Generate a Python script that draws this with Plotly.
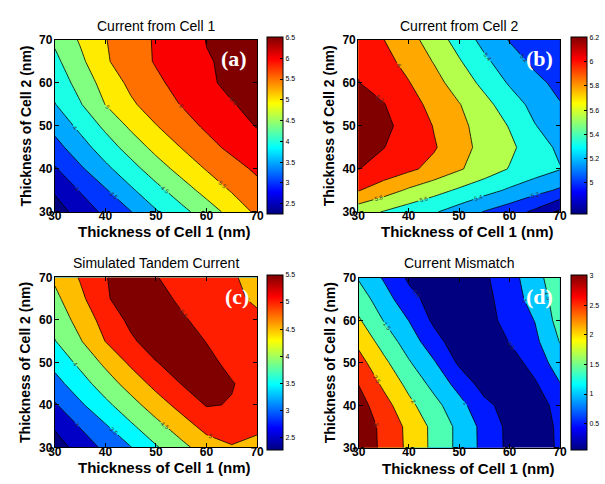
import plotly.graph_objects as go

# ---------------- data ----------------
x_nm = [30, 35, 40, 45, 50, 55, 60, 65, 70]   # Thickness of Cell 1
y_nm = [30, 35, 40, 45, 50, 55, 60, 65, 70]   # Thickness of Cell 2

# rows = y (30 -> 70), columns = x (30 -> 70)
cur_cell1 = [
    [2.24, 2.71, 3.11, 3.48, 3.95, 4.35, 4.75, 5.17, 5.60],
    [2.57, 3.03, 3.45, 3.92, 4.34, 4.76, 5.17, 5.54, 5.82],
    [2.95, 3.42, 3.88, 4.31, 4.76, 5.17, 5.53, 5.80, 6.09],
    [3.32, 3.79, 4.25, 4.71, 5.15, 5.51, 5.83, 6.12, 6.36],
    [3.66, 4.12, 4.61, 5.09, 5.48, 5.79, 6.08, 6.33, 6.52],
    [3.98, 4.46, 5.01, 5.42, 5.74, 6.02, 6.26, 6.49, 6.55],
    [4.18, 4.68, 5.19, 5.61, 5.90, 6.17, 6.47, 6.54, 6.57],
    [4.38, 4.88, 5.44, 5.76, 6.04, 6.26, 6.48, 6.55, 6.58],
    [4.58, 5.05, 5.48, 5.78, 6.05, 6.28, 6.51, 6.55, 6.58],
]
cur_cell2 = [
    [5.68, 5.59, 5.50, 5.42, 5.31, 5.19, 5.09, 4.96, 4.76],
    [6.01, 5.89, 5.77, 5.67, 5.57, 5.47, 5.37, 5.27, 5.17],
    [6.205, 6.13, 6.04, 5.94, 5.82, 5.71, 5.59, 5.50, 5.41],
    [6.22, 6.205, 6.12, 6.02, 5.87, 5.74, 5.64, 5.50, 5.36],
    [6.22, 6.22, 6.17, 5.99, 5.85, 5.72, 5.59, 5.41, 5.29],
    [6.215, 6.21, 6.08, 5.94, 5.81, 5.66, 5.50, 5.34, 5.21],
    [6.205, 6.13, 6.01, 5.87, 5.71, 5.55, 5.38, 5.25, 5.15],
    [6.18, 6.06, 5.94, 5.79, 5.62, 5.44, 5.29, 5.16, 5.09],
    [6.10, 6.005, 5.87, 5.71, 5.52, 5.34, 5.19, 5.11, 5.03],
]
tandem = [
    [2.24, 2.71, 3.11, 3.48, 3.95, 4.35, 4.75, 4.96, 4.76],
    [2.57, 3.03, 3.45, 3.92, 4.34, 4.76, 5.17, 5.27, 5.17],
    [2.95, 3.42, 3.88, 4.31, 4.76, 5.17, 5.53, 5.48, 5.41],
    [3.32, 3.79, 4.25, 4.71, 5.15, 5.51, 5.64, 5.52, 5.36],
    [3.66, 4.12, 4.61, 5.09, 5.48, 5.72, 5.59, 5.41, 5.29],
    [3.98, 4.46, 5.01, 5.42, 5.74, 5.66, 5.49, 5.34, 5.21],
    [4.18, 4.68, 5.19, 5.61, 5.71, 5.55, 5.38, 5.25, 5.15],
    [4.38, 4.88, 5.44, 5.76, 5.62, 5.44, 5.29, 5.16, 4.88],
    [4.58, 5.04, 5.48, 5.71, 5.52, 5.34, 5.19, 5.05, 4.85],
]
mismatch = [
    [3.35, 2.88, 2.39, 1.87, 1.37, 0.85, 0.38, 0.15, 0.60],
    [3.30, 2.88, 2.37, 1.87, 1.37, 0.84, 0.37, 0.15, 0.62],
    [3.20, 2.70, 2.13, 1.66, 1.17, 0.63, 0.30, 0.20, 0.72],
    [2.99, 2.40, 1.86, 1.35, 0.82, 0.30, 0.12, 0.43, 0.98],
    [2.69, 2.12, 1.55, 1.05, 0.42, 0.10, 0.25, 0.70, 1.25],
    [2.38, 1.80, 1.26, 0.70, 0.20, 0.12, 0.52, 0.88, 1.52],
    [2.06, 1.48, 0.99, 0.40, 0.10, 0.30, 0.68, 1.01, 1.70],
    [1.76, 1.22, 0.67, 0.30, 0.08, 0.35, 0.75, 1.19, 1.75],
    [1.46, 0.95, 0.42, 0.15, 0.05, 0.42, 0.81, 1.29, 1.88],
]

titles = ["Current from Cell 1", "Current from Cell 2",
          "Simulated Tandem Current", "Current Mismatch"]
panel_tags = ["(a)", "(b)", "(c)", "(d)"]
axis_ticks = [30, 40, 50, 60, 70]

cb_ticks = [
    [2.5, 3, 3.5, 4, 4.5, 5, 5.5, 6, 6.5],
    [5, 5.2, 5.4, 5.6, 5.8, 6, 6.2],
    [2.5, 3, 3.5, 4, 4.5, 5, 5.5],
    [0.5, 1, 1.5, 2, 2.5, 3],
]
cb_ticktext = [
    ["2.5", "3", "3.5", "4", "4.5", "5", "5.5", "6", "6.5"],
    ["5", "5.2", "5.4", "5.6", "5.8", "6", "6.2"],
    ["2.5", "3", "3.5", "4", "4.5", "5", "5.5"],
    ["0.5", "1", "1.5", "2", "2.5", "3"],
]
# contour levels (start, end, step) and colour limits
levels = [(2.5, 6.5, 0.5), (4.8, 6.2, 0.2), (2.5, 5.5, 0.5), (0.5, 3.0, 0.5)]
clims = [(2.24, 6.5), (4.74, 6.2), (2.27, 5.5), (0.05, 3.0)]
# colormap position of each filled band (lowest band first)
band_pos = [
    [0.0, 0.06, 0.178, 0.29, 0.40, 0.50, 0.645, 0.765, 0.88, 1.0],
    [0.0, 0.04, 0.17, 0.29, 0.40, 0.55, 0.71, 0.86, 1.0],
    [0.0, 0.07, 0.225, 0.37, 0.50, 0.69, 0.845, 1.0],
    [0.0, 0.15, 0.32, 0.45, 0.66, 0.83, 1.0],
]

# ---------------- styling helpers ----------------
W, H = 605, 484
FONT = "Liberation Sans"


def clip(v):
    return max(0.0, min(1.0, v))


def jet(t):
    t = clip(t)
    r = clip(min(4 * t - 1.5, -4 * t + 4.5))
    g = clip(min(4 * t - 0.5, -4 * t + 3.5))
    b = clip(min(4 * t + 0.5, -4 * t + 2.5))
    return "rgb(%d,%d,%d)" % (round(r * 255), round(g * 255), round(b * 255))


jet_scale = [[i / 64, jet(i / 64)] for i in range(65)]


def band_scale(pos):
    n = len(pos) - 1
    return [[k / n, jet(pos[k])] for k in range(n + 1)]


def fx(px):
    return px / W


def fy(py):
    return 1 - py / H


# pixel boxes of the four plot areas: (left, right, top, bottom)
boxes = [(49, 256, 34, 211), (359.5, 566, 34, 211),
         (49, 256, 278.5, 453.5), (360, 566, 279, 454)]
cb_left = [266.5, 577.5, 266.5, 577.5]
tag_pos = [(232, 53), (545, 53), (235, 298), (545, 298)]
title_y = [20, 20, 264, 264]
xlab_y = [231, 231, 474.5, 475]
ylab_x = [19, 330, 19, 331]

zs = [cur_cell1, cur_cell2, tandem, mismatch]

fig = go.Figure()
annotations = []
layout_axes = {}

for i in range(4):
    L, R, T, B = boxes[i]
    ax = "" if i == 0 else str(i + 1)
    s, e, st = levels[i]
    cmin, cmax = clims[i]
    fig.add_trace(go.Contour(
        x=x_nm, y=y_nm, z=zs[i],
        xaxis="x" + ax, yaxis="y" + ax,
        autocontour=False,
        contours=dict(start=s, end=e, size=st, coloring="fill",
                      showlabels=True,
                      labelfont=dict(size=6, color="#303030", family=FONT),
                      labelformat=".2~f"),
        colorscale=band_scale(band_pos[i]),
        line=dict(color="black", width=0.8, smoothing=0),
        showscale=False, hoverinfo="skip",
    ))
    # continuous jet colour bar
    fig.add_trace(go.Scatter(
        x=[50], y=[50], xaxis="x" + ax, yaxis="y" + ax, mode="markers",
        marker=dict(size=1, opacity=0, color=[cmin], cmin=cmin, cmax=cmax,
                    colorscale=jet_scale, showscale=True,
                    colorbar=dict(
                        x=fx(cb_left[i]), xanchor="left", xpad=0,
                        y=fy((T + B) / 2), yanchor="middle", ypad=0,
                        len=B - T, lenmode="pixels",
                        thickness=15.5, thicknessmode="pixels",
                        outlinewidth=1, outlinecolor="black",
                        tickvals=cb_ticks[i], ticktext=cb_ticktext[i],
                        ticks="inside", ticklen=3, tickcolor="black",
                        tickfont=dict(size=7, color="black", family=FONT),
                    )),
        showlegend=False, hoverinfo="skip",
    ))
    common = dict(range=[30, 70], tickvals=axis_ticks, ticks="inside",
                  ticklen=4, tickcolor="black", mirror="allticks",
                  showline=True, linecolor="black", linewidth=1,
                  showgrid=False, zeroline=False,
                  tickfont=dict(size=12, color="black", family=FONT,
                                weight="bold"))
    layout_axes["xaxis" + ax] = dict(domain=[fx(L), fx(R)], anchor="y" + ax,
                                     ticklabelstandoff=-7, **common)
    layout_axes["yaxis" + ax] = dict(domain=[fy(B), fy(T)], anchor="x" + ax,
                                     ticklabelstandoff=-1, **common)
    cx = (L + R) / 2
    annotations.append(dict(text=titles[i], x=fx(cx), y=fy(title_y[i]),
                            xref="paper", yref="paper", showarrow=False,
                            xanchor="center", yanchor="middle",
                            font=dict(size=14, color="black", family=FONT)))
    annotations.append(dict(text="Thickness of Cell 1 (nm)", x=fx(cx + 9),
                            y=fy(xlab_y[i]), xref="paper", yref="paper",
                            showarrow=False, xanchor="center",
                            yanchor="middle",
                            font=dict(size=15, color="black", family=FONT,
                                      weight="bold")))
    annotations.append(dict(text="Thickness of Cell 2 (nm)", x=fx(ylab_x[i]),
                            y=fy((T + B) / 2), xref="paper", yref="paper",
                            showarrow=False, xanchor="center",
                            yanchor="middle", textangle=-90,
                            font=dict(size=14, color="black", family=FONT,
                                      weight="bold")))
    tx, ty = tag_pos[i]
    annotations.append(dict(text=panel_tags[i], x=fx(tx), y=fy(ty),
                            xref="paper", yref="paper", showarrow=False,
                            xanchor="center", yanchor="middle",
                            font=dict(size=22, color="white",
                                      family="Liberation Serif",
                                      weight="bold")))

fig.update_layout(
    width=W, height=H,
    margin=dict(l=0, r=0, t=0, b=0),
    paper_bgcolor="white", plot_bgcolor="white",
    showlegend=False,
    annotations=annotations,
    **layout_axes,
)

fig.write_html("out.html")
